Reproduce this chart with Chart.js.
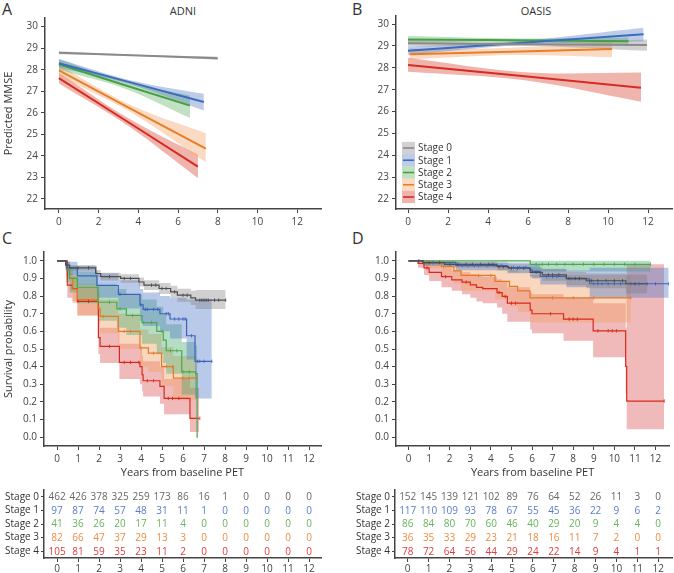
<!DOCTYPE html>
<html><head><meta charset="utf-8">
<script src="https://cdn.jsdelivr.net/npm/chart.js@4"></script>
<style>
body{margin:0;background:#fff;width:674px;height:573px;position:relative;overflow:hidden;font-family:'Open Sans',sans-serif;}
canvas{position:absolute;}
.lbl{position:absolute;color:#333;font-family:'Open Sans',sans-serif;line-height:1;white-space:nowrap;}
</style></head><body>
<div class="lbl" style="left:2px;top:1px;font-size:16px">A</div>
<div class="lbl" style="left:352px;top:1px;font-size:16px">B</div>
<div class="lbl" style="left:2px;top:230px;font-size:16px">C</div>
<div class="lbl" style="left:352px;top:230px;font-size:16px">D</div>
<div class="lbl" style="left:183px;top:5px;font-size:11px;transform:translateX(-50%)">ADNI</div>
<div class="lbl" style="left:536px;top:5px;font-size:11px;transform:translateX(-50%)">OASIS</div>
<canvas id="cA" width="337" height="240" style="left:0;top:0"></canvas>
<canvas id="cB" width="337" height="240" style="left:337px;top:0"></canvas>
<canvas id="cC" width="337" height="254" style="left:0;top:230px"></canvas>
<canvas id="cD" width="337" height="254" style="left:337px;top:230px"></canvas>
<canvas id="tC" width="337" height="93" style="left:0;top:480px"></canvas>
<canvas id="tD" width="337" height="93" style="left:337px;top:480px"></canvas>
<script>
// ---------- data ----------
const stageNames = ['Stage 0','Stage 1','Stage 2','Stage 3','Stage 4'];
const regXTicks = [0,2,4,6,8,10,12];
const mmseTicks = [22,23,24,25,26,27,28,29,30];
const kmXTicks = [0,1,2,3,4,5,6,7,8,9,10,11,12];
const kmYTicks = [0,0.1,0.2,0.3,0.4,0.5,0.6,0.7,0.8,0.9,1.0];
const years = [0,1,2,3,4,5,6,7,8,9,10,11,12];

// Panel A: ADNI predicted MMSE (start / middle / end of each fit)
const adniX   = [[0,4,8],[0,3.65,7.3],[0,3.3,6.6],[0,3.7,7.4],[0,3.5,7.0]];
const adniFit = [[28.79,28.66,28.53],[28.3,27.4,26.5],[28.25,27.29,26.33],[27.97,26.15,24.33],[27.61,25.56,23.5]];
const adniLo  = [[28.72,28.63,28.45],[28.1,27.3,26.1],[28.0,27.13,25.76],[27.72,25.98,23.7],[27.36,25.38,22.96]];
const adniHi  = [[28.86,28.69,28.61],[28.5,27.5,26.88],[28.5,27.45,26.8],[28.22,26.32,25.05],[27.86,25.74,24.05]];

// Panel B: OASIS predicted MMSE
const oasisX   = [[0,6,11.95],[0,5.9,11.78],[0,5.5,11.03],[0.08,5.14,10.2],[0,5.83,11.65]];
const oasisFit = [[29.12,29.08,29.04],[28.78,29.16,29.53],[29.3,29.26,29.21],[28.62,28.74,28.86],[28.13,27.61,27.09]];
const oasisLo  = [[28.97,29.0,28.78],[28.6,29.06,29.2],[29.15,29.18,29.03],[28.38,28.58,28.48],[27.82,27.43,26.45]];
const oasisHi  = [[29.27,29.16,29.3],[28.96,29.26,29.83],[29.45,29.34,29.39],[28.88,28.92,29.2],[28.46,27.8,27.78]];

// Panel C: ADNI Kaplan-Meier
const kmAdniT = [
  [0,0.41,0.6,1.84,2.08,3.03,3.9,4.14,4.86,5.41,5.73,6.37,6.6,8.03],
  [0,0.45,0.97,1.9,2.92,3.95,4.1,4.9,5.38,6.17,6.57,7.37],
  [0,0.45,0.6,0.97,1.95,2.85,3.3,4.05,4.75,5.06,5.2,5.94,6.6,6.67,6.7],
  [0,0.45,0.6,0.75,0.97,1.95,2.05,2.92,3.95,4.35,4.98,5.54,6.65],
  [0,0.49,0.73,0.97,1.97,2.05,2.97,3.95,4.05,4.1,4.9,5.1,6.33,6.76]];
const kmAdniS = [
  [1,0.976,0.96,0.928,0.91,0.90,0.88,0.862,0.843,0.824,0.805,0.79,0.777,0.777],
  [1,0.96,0.915,0.86,0.81,0.75,0.725,0.70,0.67,0.575,0.43,0.43],
  [1,0.95,0.90,0.85,0.765,0.727,0.69,0.65,0.60,0.55,0.49,0.37,0.36,0,0],
  [1,0.95,0.90,0.84,0.78,0.73,0.685,0.60,0.506,0.477,0.40,0.335,0.335],
  [1,0.862,0.843,0.77,0.565,0.515,0.424,0.40,0.354,0.32,0.288,0.22,0.107,0.107]];
const kmAdniLo = [
  [1,0.962,0.944,0.908,0.888,0.876,0.854,0.834,0.812,0.79,0.768,0.75,0.727,0.727],
  [1,0.92,0.86,0.79,0.73,0.66,0.63,0.60,0.56,0.44,0.22,0.22],
  [1,0.88,0.82,0.76,0.66,0.62,0.58,0.53,0.47,0.42,0.36,0.24,0.22,0,0],
  [1,0.89,0.83,0.76,0.69,0.64,0.59,0.5,0.4,0.37,0.29,0.21,0.21],
  [1,0.79,0.77,0.69,0.47,0.42,0.33,0.3,0.26,0.23,0.19,0.13,0.03,0.03]];
const kmAdniHi = [
  [1,0.99,0.976,0.948,0.932,0.924,0.906,0.89,0.874,0.858,0.842,0.83,0.835,0.835],
  [1,0.995,0.97,0.93,0.89,0.84,0.82,0.80,0.79,0.78,0.78,0.78],
  [1,0.995,0.97,0.94,0.87,0.84,0.81,0.78,0.74,0.70,0.64,0.54,0.52,0.03,0.03],
  [1,0.995,0.96,0.92,0.87,0.82,0.78,0.70,0.61,0.585,0.51,0.46,0.46],
  [1,0.93,0.915,0.855,0.67,0.62,0.53,0.5,0.46,0.43,0.40,0.33,0.28,0.28]];
const kmAdniCens = [
  [1.0,1.5,2.5,3.2,3.5,4.5,4.7,5.0,5.2,5.6,6.0,6.2,6.8,6.9,7.0,7.1,7.2,7.5,7.7,8.03],
  [3.0,4.0,4.2,4.3,4.6,4.8,5.2,5.3,5.6,5.8,6.0,6.1,6.4,6.7,6.8,7.0,7.37],
  [2.5,3.0,3.6,4.1,4.5,5.0,5.4,5.7,6.0,6.3],
  [2.2,3.2,3.5,4.0,4.6,5.2,5.5,6.0,6.3,6.65],
  [1.0,1.5,2.5,3.2,3.5,3.9,4.3,4.6,5.3,5.5,5.8,6.8]];

// Panel D: OASIS Kaplan-Meier
const kmOasisT = [
  [0,0.7,1.75,4.3,4.86,5.91,6.5,7.67,8.63,10.56,11.6],
  [0,0.7,2.3,4.8,5.9,6.0,6.4,7.67,8.8,12.64],
  [0,5.91,11.76],
  [0,0.87,1.6,2.2,2.55,4.2,4.9,5.3,5.9,10.8],
  [0,0.46,0.75,1.0,1.6,2.1,2.6,3.0,3.3,3.6,4.3,4.55,4.8,5.91,6.0,7.53,8.97,10.55,10.6,12.42]];
const kmOasisS = [
  [1,0.99,0.98,0.967,0.958,0.935,0.92,0.90,0.887,0.87,0.87],
  [1,0.99,0.973,0.962,0.949,0.94,0.911,0.898,0.87,0.87],
  [1,0.98,0.98],
  [1,0.986,0.967,0.943,0.917,0.883,0.855,0.83,0.79,0.79],
  [1,0.986,0.96,0.935,0.91,0.892,0.879,0.864,0.849,0.842,0.82,0.798,0.76,0.72,0.70,0.669,0.603,0.402,0.205,0.205]];
const kmOasisLo = [
  [1,0.975,0.962,0.945,0.934,0.906,0.887,0.862,0.845,0.815,0.815],
  [1,0.97,0.946,0.93,0.913,0.90,0.866,0.85,0.79,0.79],
  [1,0.94,0.94],
  [1,0.955,0.91,0.87,0.83,0.78,0.74,0.71,0.65,0.65],
  [1,0.96,0.92,0.885,0.85,0.83,0.81,0.79,0.77,0.76,0.735,0.70,0.655,0.61,0.59,0.547,0.453,0.25,0.045,0.045]];
const kmOasisHi = [
  [1,1,0.995,0.987,0.981,0.963,0.952,0.937,0.928,0.922,0.922],
  [1,1,0.995,0.99,0.982,0.978,0.955,0.945,0.96,0.96],
  [1,1,1],
  [1,1,1,0.995,0.98,0.96,0.95,0.935,0.92,0.92],
  [1,1,0.99,0.975,0.96,0.945,0.935,0.925,0.915,0.91,0.895,0.88,0.85,0.82,0.81,0.79,0.76,0.62,0.98,0.98]];
const kmOasisCens = [
  [0.5,1.0,1.5,2.0,2.4,2.8,3.1,3.5,3.9,4.1,4.4,4.6,5.0,5.3,5.6,6.2,6.8,7.0,7.3,7.8,8.1,8.3,8.9,9.2,9.6,10.0,10.4,11.0],
  [1.2,2.6,2.9,3.2,3.4,3.8,4.2,4.5,5.1,5.4,5.7,6.7,7.0,7.2,7.9,8.3,9.0,9.2,9.4,9.7,10.0,10.3,10.8,11.2,11.6,12.0,12.64],
  [6.2,6.5,6.8,7.2,7.6,8.0,8.5,9.0,9.5,10.0,10.5,11.0,11.76],
  [1.7,3.4,4.0,7.0,8.0,9.0,10.8],
  [0.9,1.8,2.8,4.4,4.7,5.0,5.2,6.9,7.8,8.0,8.2,9.2,9.7,9.9,10.1,12.42]];

// Numbers at risk
const riskAdni = [
  [462,426,378,325,259,173,86,16,1,0,0,0,0],
  [97,87,74,57,48,31,11,1,0,0,0,0,0],
  [41,36,26,20,17,11,4,0,0,0,0,0,0],
  [82,66,47,37,29,13,3,0,0,0,0,0,0],
  [105,81,59,35,23,11,2,0,0,0,0,0,0]];
const riskOasis = [
  [152,145,139,121,102,89,76,64,52,26,11,3,0],
  [117,110,109,93,78,67,55,45,36,22,9,6,2],
  [86,84,80,70,60,46,40,29,20,9,4,4,0],
  [36,35,33,29,23,21,18,16,11,7,2,0,0],
  [78,72,64,56,44,29,24,22,14,9,4,1,1]];

// ---------- styles ----------
const regLine = ['#8a8a8a','#3b6cbd','#43a043','#e67f28','#d62a22'];
const regBand = ['rgba(140,140,140,0.40)','rgba(70,110,190,0.35)','rgba(80,170,80,0.35)','rgba(240,150,80,0.35)','rgba(215,70,50,0.40)'];
const kmLine = ['#4d4d4d','#3a64ba','#4aa84a','#e27a28','#d9281e'];
const kmBand = ['rgba(120,120,120,0.35)','rgba(80,120,200,0.40)','rgba(70,170,110,0.40)','rgba(240,160,100,0.42)','rgba(220,90,90,0.42)'];
const riskColors = ['#666666','#5b7bcc','#66b45c','#ee8b40','#e23b3b'];
const AX = '#444';

Chart.defaults.font.family = "'Open Sans', sans-serif";
Chart.defaults.font.size = 10;
Chart.defaults.color = '#444';

function axis(min, max, ticks, size, isY, extra) {
  return Object.assign({
    type: 'linear', min: min, max: max,
    afterFit: s => { if (isY) s.width = size; else s.height = size; },
    afterBuildTicks: s => { s.ticks = ticks.map(v => ({value: v})); },
    grid: {display: true, drawOnChartArea: false, drawTicks: true, tickLength: 4, color: AX, lineWidth: 1},
    border: {display: true, color: AX, width: 1.5},
    ticks: {color: '#444', font: {size: 10}, padding: 3, autoSkip: false, maxRotation: 0}
  }, extra || {});
}

function regDatasets(X, F, L, H) {
  const ds = [];
  X.forEach((xs, i) => {
    ds.push({data: xs.map((x, k) => ({x: x, y: H[i][k]})), borderWidth: 0, pointRadius: 0, tension: 0.35, backgroundColor: regBand[i], fill: '+1', order: 3});
    ds.push({data: xs.map((x, k) => ({x: x, y: L[i][k]})), borderWidth: 0, pointRadius: 0, tension: 0.35, fill: false, order: 3});
    ds.push({data: xs.map((x, k) => ({x: x, y: F[i][k]})), borderColor: regLine[i], borderWidth: 2, pointRadius: 0, fill: false, order: 2});
  });
  return ds;
}

function stepAt(ts, ss, t) {
  let v = ss[0];
  for (let k = 0; k < ts.length; k++) if (ts[k] <= t) v = ss[k];
  return v;
}

function kmDatasets(T, S, L, H, C) {
  const ds = [];
  T.forEach((ts, i) => {
    ds.push({data: ts.map((t, k) => ({x: t, y: H[i][k]})), stepped: true, borderWidth: 0, pointRadius: 0, backgroundColor: kmBand[i], fill: '+1', order: 3});
    ds.push({data: ts.map((t, k) => ({x: t, y: L[i][k]})), stepped: true, borderWidth: 0, pointRadius: 0, fill: false, order: 3});
    ds.push({data: ts.map((t, k) => ({x: t, y: S[i][k]})), stepped: true, borderColor: kmLine[i], borderWidth: 1.2, pointRadius: 0, fill: false, order: 2});
    ds.push({data: C[i].map(t => ({x: t, y: stepAt(ts, S[i], t)})), showLine: false, pointStyle: 'line', rotation: 90, pointRadius: 1.7, borderColor: kmLine[i], borderWidth: 0.9, order: 1});
  });
  return ds;
}

function baseOptions(padTop, padRight, scales) {
  return {animation: false, responsive: false, devicePixelRatio: 1, events: [],
    layout: {padding: {top: padTop, right: padRight, left: 0, bottom: 0}},
    plugins: {legend: {display: false}, tooltip: {enabled: false}},
    scales: scales};
}

const legendB = {
  id: 'legendB',
  afterDraw(chart) {
    const ctx = chart.ctx;
    ctx.save();
    ctx.font = "10px 'Open Sans', sans-serif";
    ctx.textBaseline = 'middle'; ctx.textAlign = 'left';
    stageNames.forEach((name, i) => {
      const y = 148 + i * 12.25;
      ctx.fillStyle = regBand[i];
      ctx.fillRect(65, y - 6.1, 13, 12.25);
      ctx.strokeStyle = regLine[i]; ctx.lineWidth = 1.6;
      ctx.beginPath(); ctx.moveTo(66, y); ctx.lineTo(77, y); ctx.stroke();
      ctx.fillStyle = '#333';
      ctx.fillText(name, 81, y + 0.5);
    });
    ctx.restore();
  }
};

function riskPlugin(rows) {
  return {
    id: 'risk',
    afterDraw(chart) {
      const {ctx, scales: {x, y}} = chart;
      ctx.save();
      ctx.font = "10px 'Open Sans', sans-serif";
      ctx.textAlign = 'center'; ctx.textBaseline = 'middle';
      rows.forEach((row, i) => {
        ctx.fillStyle = riskColors[i];
        row.forEach((n, j) => ctx.fillText(String(n), x.getPixelForValue(years[j]), y.getPixelForValue(i) + 0.5));
      });
      ctx.restore();
    }
  };
}

const yTitle = t => ({display: true, text: t, font: {size: 11}, color: '#333', padding: {top: 2, bottom: 0}});
const xTitle = t => ({display: true, text: t, font: {size: 11}, color: '#333', padding: {top: 0, bottom: 5}});
const kmTick = {color: '#444', font: {size: 10}, padding: 3, autoSkip: false, callback: v => Number(v).toFixed(1)};

// ---------- Panel A ----------
new Chart(document.getElementById('cA'), {
  type: 'line',
  data: {datasets: regDatasets(adniX, adniFit, adniLo, adniHi)},
  options: baseOptions(18, 16, {
    x: axis(-0.7, 13.2, regXTicks, 31, false),
    y: axis(21.53, 30.4, mmseTicks, 45, true, {title: yTitle('Predicted MMSE')})
  })
});

// ---------- Panel B ----------
new Chart(document.getElementById('cB'), {
  type: 'line',
  data: {datasets: regDatasets(oasisX, oasisFit, oasisLo, oasisHi)},
  options: baseOptions(16, 2, {
    x: axis(-0.6, 13.2, regXTicks, 31, false),
    y: axis(21.54, 30.37, mmseTicks, 59, true)
  }),
  plugins: [legendB]
});

// ---------- Panel C ----------
new Chart(document.getElementById('cC'), {
  type: 'line',
  data: {datasets: kmDatasets(kmAdniT, kmAdniS, kmAdniLo, kmAdniHi, kmAdniCens)},
  options: baseOptions(22, 16, {
    x: axis(-0.62, 12.57, kmXTicks, 38, false, {title: xTitle('Years from baseline PET')}),
    y: axis(-0.05, 1.05, kmYTicks, 44, true, {title: yTitle('Survival probability'), ticks: kmTick})
  })
});

// ---------- Panel D ----------
new Chart(document.getElementById('cD'), {
  type: 'line',
  data: {datasets: kmDatasets(kmOasisT, kmOasisS, kmOasisLo, kmOasisHi, kmOasisCens)},
  options: baseOptions(22, 2, {
    x: axis(-0.61, 12.66, kmXTicks, 38, false, {title: xTitle('Years from baseline PET')}),
    y: axis(-0.05, 1.05, kmYTicks, 59, true, {ticks: kmTick})
  })
});

// ---------- Risk tables ----------
function tableY(width) {
  return axis(-0.5, 4.5, [0,1,2,3,4], width, true, {
    reverse: true,
    grid: {display: true, drawOnChartArea: false, drawTicks: true, tickLength: 3, color: AX, lineWidth: 1},
    ticks: {color: '#333', font: {size: 10}, padding: 2, autoSkip: false, callback: v => stageNames[v]}
  });
}
new Chart(document.getElementById('tC'), {
  type: 'scatter',
  data: {datasets: []},
  options: baseOptions(10, 16, {
    x: axis(-0.62, 12.57, kmXTicks, 15, false, {ticks: {color: '#444', font: {size: 10}, padding: 1, autoSkip: false, maxRotation: 0}}),
    y: tableY(44)
  }),
  plugins: [riskPlugin(riskAdni)]
});
new Chart(document.getElementById('tD'), {
  type: 'scatter',
  data: {datasets: []},
  options: baseOptions(10, 2, {
    x: axis(-0.61, 12.66, kmXTicks, 15, false, {ticks: {color: '#444', font: {size: 10}, padding: 1, autoSkip: false, maxRotation: 0}}),
    y: tableY(58)
  }),
  plugins: [riskPlugin(riskOasis)]
});
</script>
</body></html>
